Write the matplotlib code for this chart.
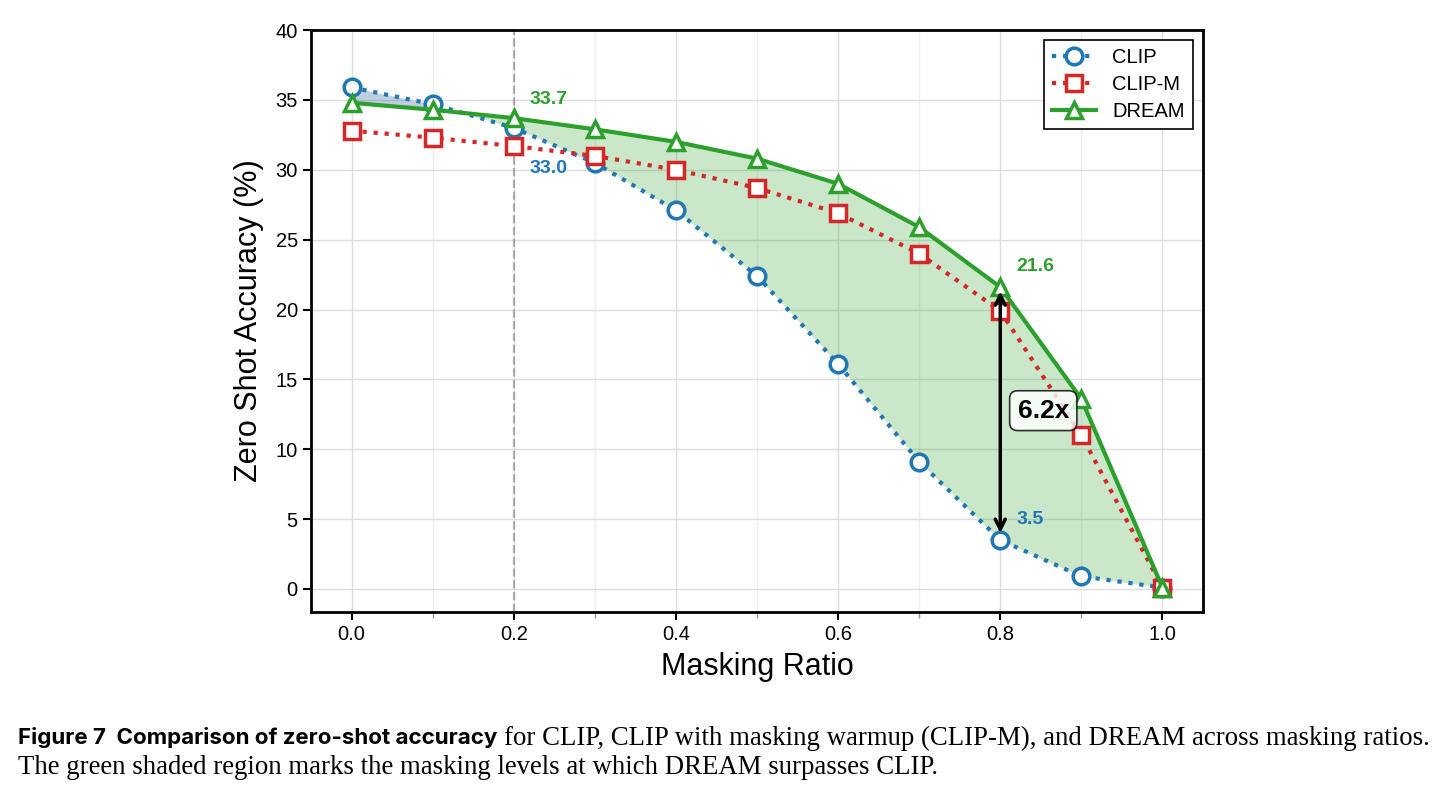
import matplotlib
matplotlib.use("Agg")
import matplotlib.pyplot as plt
import numpy as np

# masking ratios and zero-shot accuracy values (%)
ratios = [0.0, 0.1, 0.2, 0.3, 0.4, 0.5, 0.6, 0.7, 0.8, 0.9, 1.0]
clip = [35.9, 34.7, 33.0, 30.5, 27.1, 22.4, 16.1, 9.1, 3.5, 0.9, 0.1]
clip_m = [32.8, 32.3, 31.7, 31.0, 30.0, 28.7, 26.9, 24.0, 19.9, 11.0, 0.1]
dream = [34.8, 34.3, 33.7, 32.9, 32.0, 30.8, 29.0, 25.9, 21.6, 13.6, 0.1]
x_ticks = [0.0, 0.2, 0.4, 0.6, 0.8, 1.0]
y_ticks = [0, 5, 10, 15, 20, 25, 30, 35, 40]

blue = '#1f77b4'
red = '#d62728'
green = '#2ca02c'

plt.rcParams['font.family'] = ['Liberation Sans', 'DejaVu Sans']

fig = plt.figure(figsize=(14.48, 7.93), dpi=100)
ax = fig.add_axes([0.2148, 0.2283, 0.616, 0.7337])

x = np.array(ratios)
c = np.array(clip)
d = np.array(dream)
ax.fill_between(x, c, d, where=d >= c, interpolate=True, color=green,
                alpha=0.25, lw=0, zorder=1)
ax.fill_between(x, c, d, where=c > d, interpolate=True, color='#4a78a8',
                alpha=0.35, lw=0, zorder=1)

ax.axvline(0.2, color='gray', ls='--', lw=1.6, alpha=0.6, zorder=1)

mk = dict(markersize=12, markerfacecolor='white', markeredgewidth=2.5)
ax.plot(ratios, clip, ls=':', lw=3, color=blue, marker='o', label='CLIP',
        zorder=3, **mk)
ax.plot(ratios, clip_m, ls=':', lw=3, color=red, marker='s', label='CLIP-M',
        zorder=3, **mk)
ax.plot(ratios, dream, ls='-', lw=3, color=green, marker='^', label='DREAM',
        zorder=4, **mk)

# value labels
ax.text(0.22, 35.05, '%.1f' % dream[2], color=green, fontsize=14,
        fontweight='bold', va='center')
ax.text(0.22, 30.1, '%.1f' % clip[2], color=blue, fontsize=14,
        fontweight='bold', va='center')
ax.text(0.82, 23.1, '%.1f' % dream[8], color=green, fontsize=14,
        fontweight='bold', va='center')
ax.text(0.82, 5.0, '%.1f' % clip[8], color=blue, fontsize=14,
        fontweight='bold', va='center')

ax.annotate('', xy=(0.8, dream[8]), xytext=(0.8, clip[8]),
            arrowprops=dict(arrowstyle='<->', lw=2.5, color='black',
                            shrinkA=5, shrinkB=3, mutation_scale=18),
            zorder=5)
ax.text(0.853, 12.76, '%.1fx' % (dream[8] / clip[8]), fontsize=19,
        fontweight='bold', ha='center', va='center', zorder=6,
        bbox=dict(boxstyle='round,pad=0.3', facecolor='white', alpha=0.8,
                  edgecolor='black', lw=1.2))

ax.set_xlim(-0.05, 1.05)
ax.set_ylim(-1.65, 40)
ax.set_xticks(x_ticks)
ax.set_xticks(ratios[1::2], minor=True)
ax.set_yticks(y_ticks)
ax.tick_params(axis='both', which='major', labelsize=14.5, length=6, width=1.5)
ax.tick_params(axis='x', which='minor', length=4, width=1, color='#999999')
ax.grid(which='major', color='#dddddd', lw=1, zorder=0)
ax.grid(which='minor', axis='x', color='#eeeeee', lw=1, zorder=0)
ax.set_axisbelow(True)
for s in ax.spines.values():
    s.set_linewidth(2)

ax.set_xlabel('Masking Ratio', fontsize=22, labelpad=6)
ax.set_ylabel('Zero Shot Accuracy (%)', fontsize=22, labelpad=8)

leg = ax.legend(loc='upper right', fontsize=14.5, fancybox=False,
                edgecolor='black', framealpha=1, handlelength=2.2,
                borderpad=0.4, labelspacing=0.4)
leg.get_frame().set_linewidth(1.2)

# caption below the chart
fig.canvas.draw()
r = fig.canvas.get_renderer()
t1 = fig.text(18 / 1448, 1 - 738 / 793, 'Figure 7  Comparison of zero-shot accuracy',
              family='Inter', fontweight='bold', fontsize=16.1, va='center')
bb = t1.get_window_extent(renderer=r)
fig.text(bb.x1 / fig.bbox.width + 7 / 1448, 1 - 738 / 793,
         'for CLIP, CLIP with masking warmup (CLIP-M), and DREAM across masking ratios.',
         family='Liberation Serif', fontsize=19.3, va='center')
fig.text(18 / 1448, 1 - 767 / 793,
         'The green shaded region marks the masking levels at which DREAM surpasses CLIP.',
         family='Liberation Serif', fontsize=19.3, va='center')

fig.savefig('out.png', dpi=100)
